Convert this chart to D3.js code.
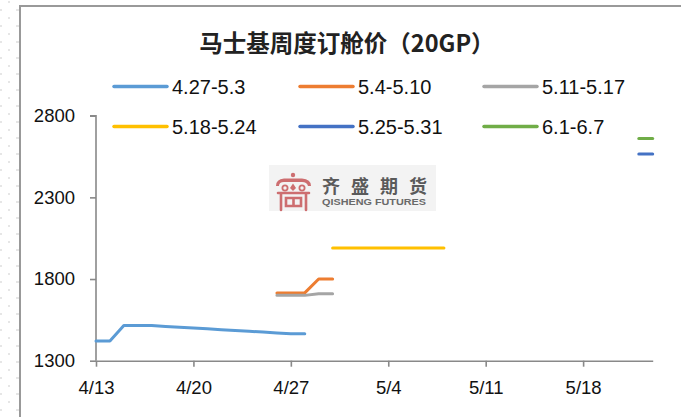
<!DOCTYPE html>
<html>
<head>
<meta charset="utf-8">
<script src="https://cdn.jsdelivr.net/npm/d3@7"></script>
<style>
  html, body { margin: 0; padding: 0; background: #fff; }
  svg { display: block; }
</style>
</head>
<body>
<svg id="chart" width="681" height="417"></svg>
<script>
// ---- data ----
const title = "马士基周度订舱价（20GP）";
const seriesNames = ["4.27-5.3", "5.4-5.10", "5.11-5.17", "5.18-5.24", "5.25-5.31", "6.1-6.7"];
const seriesColors = ["#5B9BD5", "#ED7D31", "#A5A5A5", "#FFC000", "#4472C4", "#70AD47"];

const datesS1 = ["4/13","4/14","4/15","4/16","4/17","4/18","4/19","4/20","4/21","4/22","4/23","4/24","4/25","4/26","4/27","4/28"];
const valuesS1 = [1420,1420,1515,1515,1515,1510,1505,1500,1495,1490,1485,1480,1475,1470,1465,1465];
const datesS2 = ["4/26","4/27","4/28","4/29","4/30"];
const valuesS2 = [1715,1715,1715,1800,1800];
const datesS3 = ["4/26","4/27","4/28","4/29","4/30"];
const valuesS3 = [1700,1700,1700,1710,1710];
const datesS4 = ["4/30","5/1","5/2","5/3","5/4","5/5","5/6","5/7","5/8"];
const valuesS4 = [1990,1990,1990,1990,1990,1990,1990,1990,1990];
const datesS5 = ["5/22","5/23"];
const valuesS5 = [2565,2565];
const datesS6 = ["5/22","5/23"];
const valuesS6 = [2660,2660];

const xDomain = ["4/13", "5/23"];
const xTickLabels = ["4/13","4/20","4/27","5/4","5/11","5/18"];
const yTicks = [1300, 1800, 2300, 2800];
const yDomain = [1300, 2800];

// ---- helpers ----
const parse = s => { const [m, d] = s.split("/").map(Number); return new Date(2020, m - 1, d); };
const fmt = d => (d.getMonth() + 1) + "/" + d.getDate();

const seriesData = [
  [datesS1, valuesS1], [datesS2, valuesS2], [datesS3, valuesS3],
  [datesS4, valuesS4], [datesS5, valuesS5], [datesS6, valuesS6]
].map(([ds, vs], i) => ({
  name: seriesNames[i], color: seriesColors[i],
  points: ds.map((d, j) => ({ date: parse(d), value: vs[j] }))
}));

const svg = d3.select("#chart");
const W = 681, H = 417;

// background dot pattern (page outside the chart frame)
const defs = svg.append("defs");
const pat = defs.append("pattern").attr("id", "dots")
  .attr("patternUnits", "userSpaceOnUse").attr("width", 17).attr("height", 16);
pat.append("rect").attr("x", 8).attr("y", 1).attr("width", 2).attr("height", 2).attr("fill", "#e6e6e6");
pat.append("rect").attr("x", 16).attr("y", 9).attr("width", 2).attr("height", 2).attr("fill", "#e6e6e6");
pat.append("rect").attr("x", 0).attr("y", 9).attr("width", 2).attr("height", 2).attr("fill", "#e6e6e6");
svg.append("rect").attr("x", 0).attr("y", 0).attr("width", 19).attr("height", H).attr("fill", "url(#dots)");

// chart frame
svg.append("path")
  .attr("d", `M20,${H} L20,6 L${W},6`)
  .attr("fill", "none").attr("stroke", "#999").attr("stroke-width", 2);

// ---- scales ----
const x = d3.scaleTime().domain(xDomain.map(parse)).range([96, 652.7]);
const y = d3.scaleLinear().domain(yDomain).range([360.7, 115.7]);

// title
svg.append("text")
  .attr("x", 347).attr("y", 52)
  .attr("text-anchor", "middle")
  .attr("font-family", "'Noto Sans CJK SC', sans-serif")
  .attr("font-weight", "bold")
  .attr("font-size", 23.5)
  .attr("fill", "#222")
  .text(title);

// watermark logo
const wm = svg.append("g");
wm.append("rect").attr("x", 269).attr("y", 165).attr("width", 167).attr("height", 46).attr("fill", "#f3f3f3");
const red = "#cd6e70";
// knob
wm.append("circle").attr("cx", 293).attr("cy", 175).attr("r", 2.2).attr("fill", red);
// roof
wm.append("path")
  .attr("d", "M276,186 Q276,179 284,178.5 L302,178.5 Q311,179 311,186 L308,186 Q307,182 302,182 L284,182 Q279,182 279,186 Z")
  .attr("fill", red);
// eyes
wm.append("circle").attr("cx", 285).attr("cy", 188).attr("r", 2.6).attr("fill", "none").attr("stroke", red).attr("stroke-width", 1.8);
wm.append("circle").attr("cx", 302).attr("cy", 188).attr("r", 2.6).attr("fill", "none").attr("stroke", red).attr("stroke-width", 1.8);
wm.append("path").attr("d", "M293,183.5 L296,188 L293,191 L290,188 Z").attr("fill", red);
// body
wm.append("path")
  .attr("d", "M278,193 L309,193 M281,193 L281,210 M306,193 L306,210 M286,198 L301,198 L301,206 L286,206 Z M293.5,198 L293.5,206")
  .attr("fill", "none").attr("stroke", red).attr("stroke-width", 2.6).attr("stroke-linecap", "round");
wm.append("text")
  .attr("x", 322).attr("y", 193)
  .attr("textLength", 105).attr("lengthAdjust", "spacing")
  .attr("font-family", "'Noto Sans CJK SC', sans-serif")
  .attr("font-weight", "bold").attr("font-size", 18)
  .attr("fill", "#5a5a5a")
  .text("齐盛期货");
wm.append("text")
  .attr("x", 322).attr("y", 204.5)
  .attr("textLength", 104).attr("lengthAdjust", "spacingAndGlyphs")
  .attr("font-family", "'Liberation Sans', Arial, sans-serif")
  .attr("font-weight", "bold").attr("font-size", 9)
  .attr("fill", "#6a6a6a")
  .text("QISHENG FUTURES");

// ---- axes ----
const axisColor = "#898989";
const tickFont = "'Liberation Sans', Arial, sans-serif";

const yAxis = svg.append("g").attr("transform", "translate(96,0)")
  .call(d3.axisLeft(y).tickValues(yTicks).tickSize(6).tickPadding(15).tickFormat(d3.format("d")));
const xAxis = svg.append("g").attr("transform", "translate(0,360.7)")
  .call(d3.axisBottom(x).tickValues(xTickLabels.map(parse)).tickSize(6).tickPadding(14).tickFormat(fmt).tickSizeOuter(0));

[yAxis, xAxis].forEach(g => {
  g.select(".domain").attr("stroke", axisColor).attr("stroke-width", 1.6);
  g.selectAll(".tick line").attr("stroke", axisColor).attr("stroke-width", 1.6);
  g.selectAll(".tick text").attr("fill", "#111").attr("font-family", tickFont).attr("font-size", 18.5);
});
yAxis.select(".domain").attr("d", `M-6,${y(2800)}H0V${y(1300)}`);

// ---- lines ----
const line = d3.line().x(d => x(d.date)).y(d => y(d.value));
svg.append("g").selectAll("path").data(seriesData).join("path")
  .attr("d", d => line(d.points))
  .attr("fill", "none")
  .attr("stroke", d => d.color)
  .attr("stroke-width", 3)
  .attr("stroke-linecap", "round")
  .attr("stroke-linejoin", "round");

// ---- legend ----
const legX = [114, 300, 484];
const legY = [86.5, 126.5];
const leg = svg.append("g").selectAll("g").data(seriesData).join("g")
  .attr("transform", (d, i) => `translate(${legX[i % 3]},${legY[Math.floor(i / 3)]})`);
leg.append("line").attr("x1", 0).attr("x2", 53).attr("y1", 0).attr("y2", 0)
  .attr("stroke", d => d.color).attr("stroke-width", 3.5).attr("stroke-linecap", "round");
leg.append("text").attr("x", 58).attr("y", 7)
  .attr("font-family", tickFont).attr("font-size", 20).attr("fill", "#111")
  .text(d => d.name);
</script>
</body>
</html>
